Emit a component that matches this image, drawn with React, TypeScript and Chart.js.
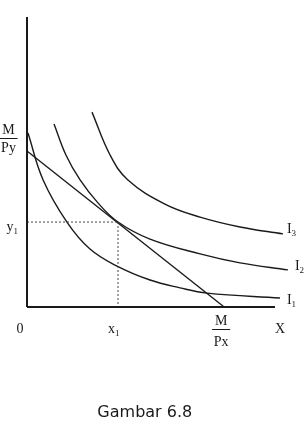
import React, { useEffect, useRef } from "react";
import { Chart, registerables } from "chart.js";

Chart.register(...registerables);

// Indifference curves (x: good X, y: good Y)
const i1X = [0.04, 0.65, 1.61, 2.54, 3.63, 4.96, 6.17, 7.26, 10.2];
const i1Y = [6.0, 4.38, 2.93, 2.0, 1.41, 0.93, 0.66, 0.48, 0.31];
const i2X = [1.09, 1.57, 2.14, 2.86, 3.67, 4.96, 6.98, 8.59, 10.52];
const i2Y = [6.31, 5.24, 4.38, 3.59, 2.93, 2.34, 1.83, 1.52, 1.28];
const i3X = [2.62, 3.35, 4.07, 5.56, 6.98, 8.59, 10.32];
const i3Y = [6.72, 5.24, 4.38, 3.55, 3.1, 2.76, 2.52];

// Budget line intercepts: M/Py on Y axis, M/Px on X axis
const budgetYIntercept = 5.38;
const budgetXIntercept = 7.95;
// Optimum
const optX = 3.67;
const optY = 2.93;
// Axes extents
const axisXMax = 10;
const axisYMax = 10;

const curveNames = ["I1", "I2", "I3"];
const caption = "Gambar 6.8";

const toPts = (xs: number[], ys: number[]) => xs.map((x, i) => ({ x, y: ys[i] }));

const INK = "#1a1a1a";
const SERIF = '"Liberation Serif", "Times New Roman", serif';

export default function App() {
  const ref = useRef<HTMLCanvasElement | null>(null);

  useEffect(() => {
    document.body.style.margin = "0";
    const canvas = ref.current;
    if (!canvas) return;

    const labelPlugin = {
      id: "labels",
      afterDatasetsDraw(chart: any) {
        const ctx = chart.ctx as CanvasRenderingContext2D;
        const xs = chart.scales.x;
        const ys = chart.scales.y;
        const px = (v: number) => xs.getPixelForValue(v);
        const py = (v: number) => ys.getPixelForValue(v);
        ctx.save();
        ctx.fillStyle = INK;
        ctx.strokeStyle = INK;
        ctx.textBaseline = "alphabetic";
        const main = `14px ${SERIF}`;
        const sub = `9px ${SERIF}`;

        const withSub = (m: string, s: string, x: number, base: number, align: "left" | "center" | "right") => {
          ctx.font = main;
          const mw = ctx.measureText(m).width;
          ctx.font = sub;
          const sw = ctx.measureText(s).width;
          const total = mw + sw;
          let left = x;
          if (align === "center") left = x - total / 2;
          if (align === "right") left = x - total;
          ctx.textAlign = "left";
          ctx.font = main;
          ctx.fillText(m, left, base);
          ctx.font = sub;
          ctx.fillText(s, left + mw, base + 3);
        };

        const fraction = (top: string, bottom: string, cx: number, barY: number, topGap: number, botGap: number) => {
          ctx.font = main;
          ctx.textAlign = "center";
          ctx.fillText(top, cx, barY - topGap);
          ctx.fillText(bottom, cx, barY + botGap);
          ctx.lineWidth = 1;
          ctx.beginPath();
          ctx.moveTo(cx - 9, barY + 0.5);
          ctx.lineTo(cx + 9, barY + 0.5);
          ctx.stroke();
        };

        // M/Py on Y axis
        fraction("M", "Py", px(0) - 18.5, Math.round(py(budgetYIntercept) - 13), 4, 14);
        // M/Px on X axis
        fraction("M", "Px", px(budgetXIntercept) - 3, Math.round(py(0) + 22), 4, 17);

        // 0, X
        ctx.font = main;
        ctx.textAlign = "center";
        ctx.fillText("0", px(0) - 7, py(0) + 26);
        ctx.fillText("X", px(axisXMax) + 5, py(0) + 26);

        // x1, y1
        withSub("x", "1", px(optX) - 10, py(0) + 26, "left");
        withSub("y", "1", px(0) - 9, py(optY) + 9, "right");

        // Curve labels
        const ends = [
          { x: i1X[i1X.length - 1], y: i1Y[i1Y.length - 1], dx: 7, dy: 6 },
          { x: i2X[i2X.length - 1], y: i2Y[i2Y.length - 1], dx: 7, dy: 0 },
          { x: i3X[i3X.length - 1], y: i3Y[i3Y.length - 1], dx: 4, dy: -1 },
        ];
        ends.forEach((e, i) => {
          withSub("I", curveNames[i].slice(1), px(e.x) + e.dx, py(e.y) + e.dy, "left");
        });

        // Caption
        ctx.font = `16px "DejaVu Sans", sans-serif`;
        ctx.textAlign = "center";
        ctx.fillText(caption, px(4.75), py(0) + 110);
        ctx.restore();
      },
    };

    const curve = (data: { x: number; y: number }[]) => ({
      data,
      borderColor: INK,
      borderWidth: 1.4,
      pointRadius: 0,
      fill: false,
      showLine: true,
      tension: 0.4,
      clip: false as any,
    });

    const straight = (data: { x: number; y: number }[], width: number, dash: number[] = [], color = INK) => ({
      data,
      borderColor: color,
      borderWidth: width,
      borderDash: dash,
      pointRadius: 0,
      fill: false,
      showLine: true,
      tension: 0,
      clip: false as any,
    });

    const chart = new Chart(canvas, {
      type: "scatter",
      data: {
        datasets: [
          straight([{ x: 0, y: 0 }, { x: 0, y: axisYMax }], 2),
          straight([{ x: 0, y: 0 }, { x: axisXMax, y: 0 }], 2),
          straight([{ x: 0, y: optY }, { x: optX, y: optY }], 1, [2, 2], "#444"),
          straight([{ x: optX, y: optY }, { x: optX, y: 0 }], 1, [2, 2], "#444"),
          straight([{ x: 0, y: budgetYIntercept }, { x: budgetXIntercept, y: 0 }], 1.4),
          curve(toPts(i1X, i1Y)),
          curve(toPts(i2X, i2Y)),
          curve(toPts(i3X, i3Y)),
        ] as any,
      },
      options: {
        animation: false,
        responsive: false,
        devicePixelRatio: 1,
        layout: { padding: { left: 27, top: 17, right: 29, bottom: 119 } },
        plugins: { legend: { display: false }, tooltip: { enabled: false }, title: { display: false } },
        scales: {
          x: { type: "linear", min: 0, max: axisXMax, display: false },
          y: { type: "linear", min: 0, max: axisYMax, display: false },
        },
      },
      plugins: [labelPlugin],
    });
    return () => chart.destroy();
  }, []);

  return (
    <div style={{ position: "absolute", left: 0, top: 0, width: 304, height: 426, background: "#fff" }}>
      <canvas ref={ref} width={304} height={426} style={{ width: 304, height: 426, display: "block" }} />
    </div>
  );
}
